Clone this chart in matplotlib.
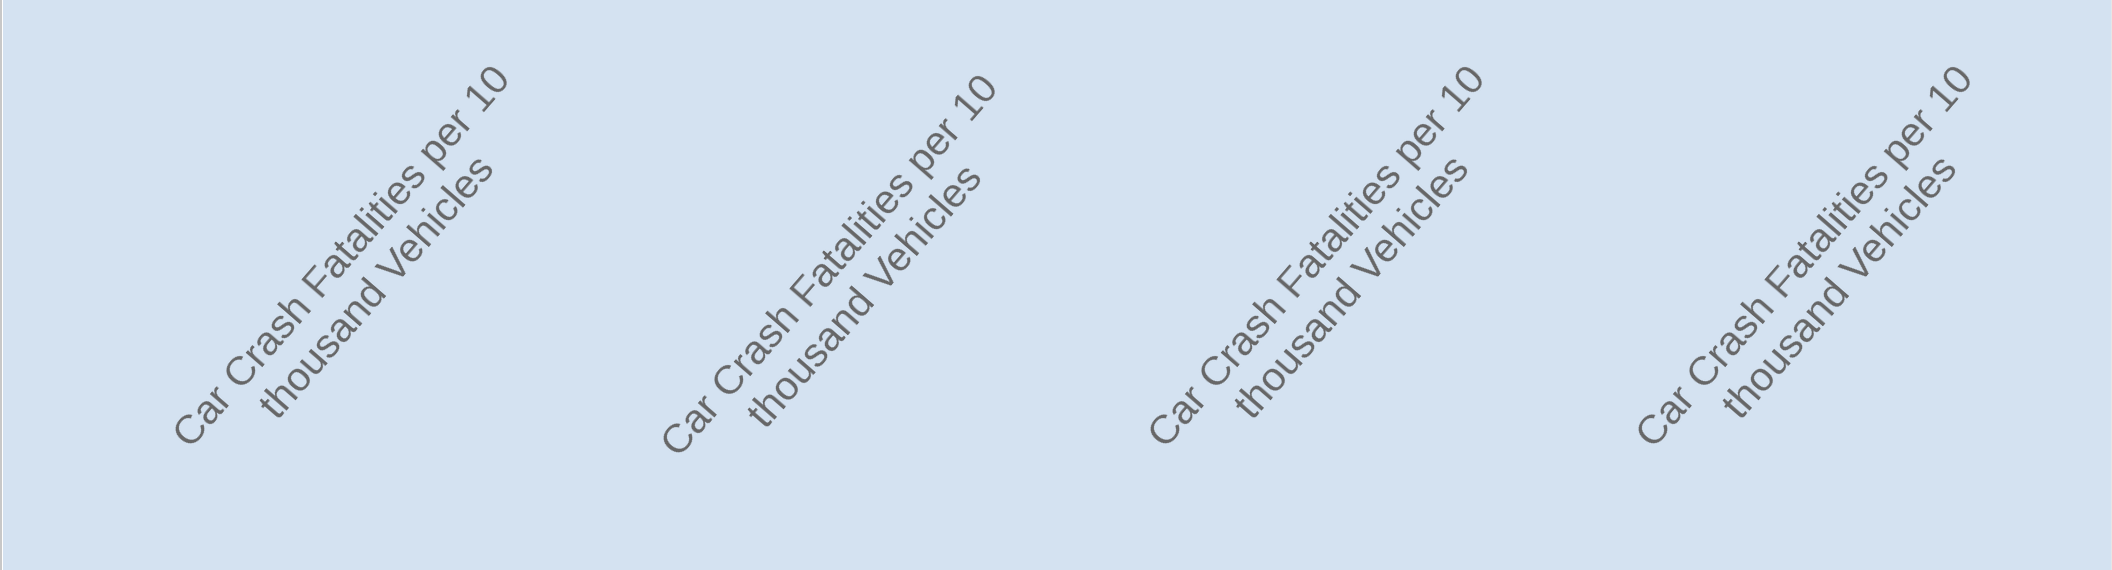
import matplotlib
matplotlib.use("Agg")
import matplotlib.pyplot as plt
import matplotlib.transforms as mtransforms
from matplotlib.patches import Rectangle

# Data: four categories, all with the same label text
categories = [
    "Car Crash Fatalities per 10\nthousand Vehicles",
    "Car Crash Fatalities per 10\nthousand Vehicles",
    "Car Crash Fatalities per 10\nthousand Vehicles",
    "Car Crash Fatalities per 10\nthousand Vehicles",
]
positions = list(range(len(categories)))

W, H, DPI = 2112, 570, 100
bg = "#d4e2f1"
txt_col = "#666666"

fig = plt.figure(figsize=(W / DPI, H / DPI), dpi=DPI, facecolor="white")

# plot area (fills almost everything, leaves the thin border strip at the left)
ax = fig.add_axes([3 / W, 0, (W - 4) / W, 1])
ax.set_facecolor(bg)
for s in ax.spines.values():
    s.set_visible(False)
ax.set_xticks([])
ax.set_yticks([])

# category centres -> pixels
x0, step = 490 - 3, 487.7
ax.set_xlim(-x0 / step, (W - 4 - x0) / step)
ax.set_ylim(0, 1)

# thin grey frame strip at far left and right
fig.patches.append(Rectangle((0, 0), 2 / W, 1, transform=fig.transFigure,
                             facecolor="#c8c8c8", edgecolor="none"))
fig.patches.append(Rectangle(((W - 1) / W, 0), 1 / W, 1, transform=fig.transFigure,
                             facecolor="#e6e6e6", edgecolor="none"))

# axis labels hang from a line near the top, rotated
trans = mtransforms.blended_transform_factory(ax.transData, ax.transAxes)
label_top = 1 - 60 / H
for i, lab in zip(positions, categories):
    dy = -9 / H if i == 1 else 0
    ax.text(i, label_top + dy, lab, transform=trans, rotation=49,
            rotation_mode="anchor", ha="right", va="top",
            multialignment="center", linespacing=1.3,
            fontsize=29.5, color=txt_col,
            family=["Liberation Sans", "DejaVu Sans"])

fig.savefig("out.png", dpi=DPI, facecolor=fig.get_facecolor())
